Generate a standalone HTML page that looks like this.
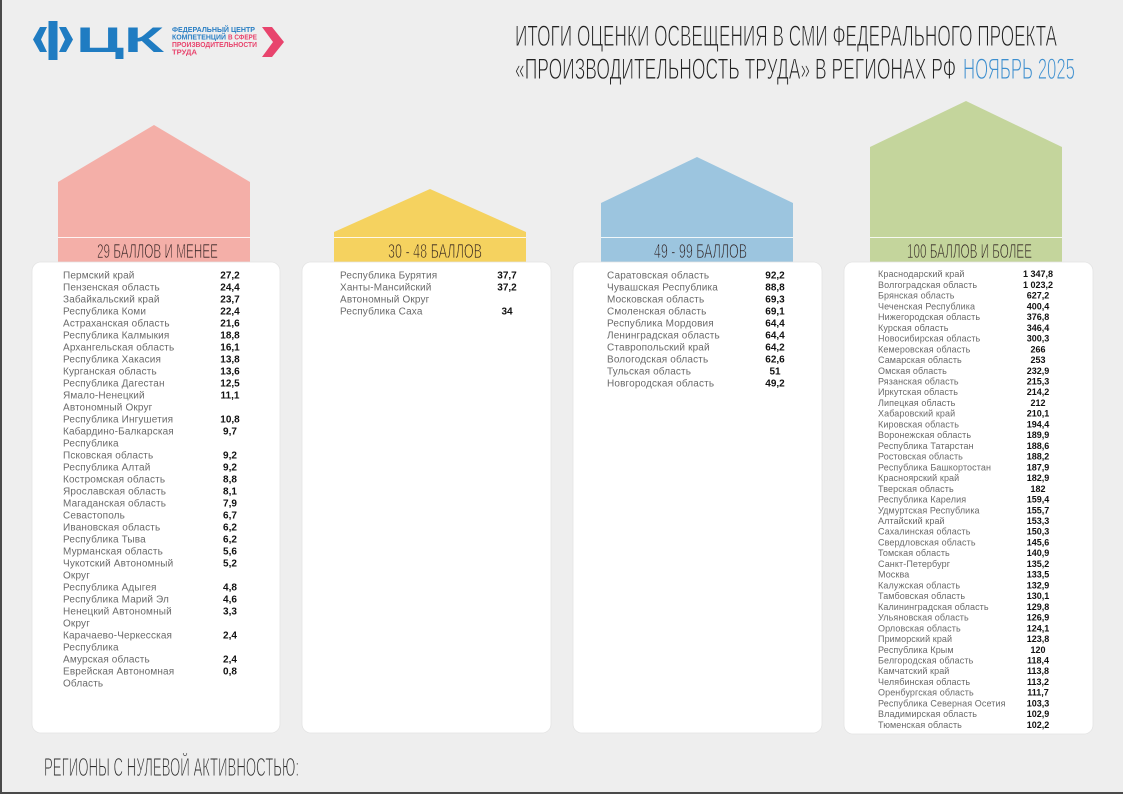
<!DOCTYPE html>
<html><head><meta charset="utf-8"><style>
html,body{margin:0;padding:0;background:#eeeeee;}
svg{display:block;}
text{font-family:"Liberation Sans","DejaVu Sans",sans-serif;}
.n{font-size:10px;fill:#6a6a6a;letter-spacing:0.15px;}
.v{font-size:10px;font-weight:bold;fill:#111;text-anchor:middle;}
.n4{font-size:9px;fill:#6a6a6a;letter-spacing:0.1px;}
.v4{font-size:9px;font-weight:bold;fill:#111;text-anchor:middle;}
.lab{font-size:20px;fill:#2a1c1c;stroke-width:0.7px;}
.ttl{stroke:#eeeeee;stroke-width:0.9px;}
</style></head><body>
<svg width="1123" height="794" viewBox="0 0 1123 794" xmlns="http://www.w3.org/2000/svg">
<rect x="0" y="0" width="1123" height="794" fill="#eeeeee"/>
<rect x="0" y="0" width="2" height="794" fill="#4a4a4a"/>
<rect x="0" y="792" width="1123" height="2" fill="#4a4a4a"/>

<!-- logo -->
<polygon points="47,27 40,27 33,39.5 40,52 47,52 41,39.5" fill="#1f7cc2"/>
<rect x="48.5" y="21" width="9" height="39" fill="#1f7cc2"/>
<polygon points="59,27 66,27 73,39.5 66,52 59,52 65,39.5" fill="#1f7cc2"/>
<text x="76" y="52" font-size="35" font-weight="bold" fill="#1f7cc2" textLength="88" lengthAdjust="spacingAndGlyphs">ЦК</text>
<text x="172" y="32" font-size="7" font-weight="bold" fill="#2a7fc4" textLength="83" lengthAdjust="spacingAndGlyphs">ФЕДЕРАЛЬНЫЙ ЦЕНТР</text>
<text x="172" y="39.5" font-size="7" font-weight="bold" fill="#2a7fc4" textLength="54" lengthAdjust="spacingAndGlyphs">КОМПЕТЕНЦИЙ</text>
<text x="228" y="39.5" font-size="7" font-weight="bold" fill="#e8446d" textLength="29" lengthAdjust="spacingAndGlyphs">В СФЕРЕ</text>
<text x="172" y="47" font-size="7" font-weight="bold" fill="#e8446d" textLength="85" lengthAdjust="spacingAndGlyphs">ПРОИЗВОДИТЕЛЬНОСТИ</text>
<text x="172" y="54.5" font-size="7" font-weight="bold" fill="#e8446d" textLength="25" lengthAdjust="spacingAndGlyphs">ТРУДА</text>
<polygon points="262,27 272,27 284,42 272,57 262,57 273,42" fill="#e8446d"/>

<!-- title -->
<text class="ttl" x="515" y="46" font-size="30" fill="#222" textLength="542" lengthAdjust="spacingAndGlyphs">ИТОГИ ОЦЕНКИ ОСВЕЩЕНИЯ В СМИ ФЕДЕРАЛЬНОГО ПРОЕКТА</text>
<text class="ttl" x="515" y="79" font-size="30" fill="#222" textLength="441" lengthAdjust="spacingAndGlyphs">«ПРОИЗВОДИТЕЛЬНОСТЬ ТРУДА» В РЕГИОНАХ РФ</text>
<text class="ttl" x="963" y="79" font-size="30" fill="#3d8fcf" textLength="112" lengthAdjust="spacingAndGlyphs">НОЯБРЬ 2025</text>

<!-- houses -->
<polygon points="58,182 154,125 250,182 250,266 58,266" fill="#f4afa8"/>
<polygon points="334,232 430,189 526,232 526,266 334,266" fill="#f5d25f"/>
<polygon points="601,203 697,157 793,203 793,266 601,266" fill="#9cc5df"/>
<polygon points="870,147 966,101 1062,147 1062,266 870,266" fill="#c4d59c"/>
<g stroke="#ffffff" stroke-opacity="0.85" stroke-width="1">
<line x1="58" y1="237.5" x2="250" y2="237.5"/>
<line x1="334" y1="237.5" x2="526" y2="237.5"/>
<line x1="601" y1="237.5" x2="793" y2="237.5"/>
<line x1="870" y1="237.5" x2="1062" y2="237.5"/>
</g>
<text class="lab" stroke="#f4afa8" x="97" y="258" textLength="121" lengthAdjust="spacingAndGlyphs">29 БАЛЛОВ И МЕНЕЕ</text>
<text class="lab" stroke="#f5d25f" x="388" y="258" textLength="94" lengthAdjust="spacingAndGlyphs">30 - 48 БАЛЛОВ</text>
<text class="lab" stroke="#9cc5df" x="654" y="258" textLength="93" lengthAdjust="spacingAndGlyphs">49 - 99 БАЛЛОВ</text>
<text class="lab" stroke="#c4d59c" x="907" y="258" textLength="125" lengthAdjust="spacingAndGlyphs">100 БАЛЛОВ И БОЛЕЕ</text>

<!-- cards -->
<g fill="#ffffff" stroke="#e4e4e4" stroke-width="0.8">
<rect x="32" y="262" width="248" height="471" rx="9"/>
<rect x="302" y="262" width="249" height="471" rx="9"/>
<rect x="573" y="262" width="249" height="471" rx="9"/>
<rect x="844" y="262" width="249" height="472" rx="9"/>
</g>

<!-- column 1 -->
<g>
<text class="n" x="63" y="278.5">Пермский край</text><text class="v" x="230" y="278.5">27,2</text>
<text class="n" x="63" y="290.5">Пензенская область</text><text class="v" x="230" y="290.5">24,4</text>
<text class="n" x="63" y="302.5">Забайкальский край</text><text class="v" x="230" y="302.5">23,7</text>
<text class="n" x="63" y="314.5">Республика Коми</text><text class="v" x="230" y="314.5">22,4</text>
<text class="n" x="63" y="326.5">Астраханская область</text><text class="v" x="230" y="326.5">21,6</text>
<text class="n" x="63" y="338.5">Республика Калмыкия</text><text class="v" x="230" y="338.5">18,8</text>
<text class="n" x="63" y="350.5">Архангельская область</text><text class="v" x="230" y="350.5">16,1</text>
<text class="n" x="63" y="362.5">Республика Хакасия</text><text class="v" x="230" y="362.5">13,8</text>
<text class="n" x="63" y="374.5">Курганская область</text><text class="v" x="230" y="374.5">13,6</text>
<text class="n" x="63" y="386.5">Республика Дагестан</text><text class="v" x="230" y="386.5">12,5</text>
<text class="n" x="63" y="398.5">Ямало-Ненецкий</text><text class="v" x="230" y="398.5">11,1</text>
<text class="n" x="63" y="410.5">Автономный Округ</text>
<text class="n" x="63" y="422.5">Республика Ингушетия</text><text class="v" x="230" y="422.5">10,8</text>
<text class="n" x="63" y="434.5">Кабардино-Балкарская</text><text class="v" x="230" y="434.5">9,7</text>
<text class="n" x="63" y="446.5">Республика</text>
<text class="n" x="63" y="458.5">Псковская область</text><text class="v" x="230" y="458.5">9,2</text>
<text class="n" x="63" y="470.5">Республика Алтай</text><text class="v" x="230" y="470.5">9,2</text>
<text class="n" x="63" y="482.5">Костромская область</text><text class="v" x="230" y="482.5">8,8</text>
<text class="n" x="63" y="494.5">Ярославская область</text><text class="v" x="230" y="494.5">8,1</text>
<text class="n" x="63" y="506.5">Магаданская область</text><text class="v" x="230" y="506.5">7,9</text>
<text class="n" x="63" y="518.5">Севастополь</text><text class="v" x="230" y="518.5">6,7</text>
<text class="n" x="63" y="530.5">Ивановская область</text><text class="v" x="230" y="530.5">6,2</text>
<text class="n" x="63" y="542.5">Республика Тыва</text><text class="v" x="230" y="542.5">6,2</text>
<text class="n" x="63" y="554.5">Мурманская область</text><text class="v" x="230" y="554.5">5,6</text>
<text class="n" x="63" y="566.5">Чукотский Автономный</text><text class="v" x="230" y="566.5">5,2</text>
<text class="n" x="63" y="578.5">Округ</text>
<text class="n" x="63" y="590.5">Республика Адыгея</text><text class="v" x="230" y="590.5">4,8</text>
<text class="n" x="63" y="602.5">Республика Марий Эл</text><text class="v" x="230" y="602.5">4,6</text>
<text class="n" x="63" y="614.5">Ненецкий Автономный</text><text class="v" x="230" y="614.5">3,3</text>
<text class="n" x="63" y="626.5">Округ</text>
<text class="n" x="63" y="638.5">Карачаево-Черкесская</text><text class="v" x="230" y="638.5">2,4</text>
<text class="n" x="63" y="650.5">Республика</text>
<text class="n" x="63" y="662.5">Амурская область</text><text class="v" x="230" y="662.5">2,4</text>
<text class="n" x="63" y="674.5">Еврейская Автономная</text><text class="v" x="230" y="674.5">0,8</text>
<text class="n" x="63" y="686.5">Область</text>
</g>

<!-- column 2 -->
<g>
<text class="n" x="340" y="278.5">Республика Бурятия</text><text class="v" x="507" y="278.5">37,7</text>
<text class="n" x="340" y="290.5">Ханты-Мансийский</text><text class="v" x="507" y="290.5">37,2</text>
<text class="n" x="340" y="302.5">Автономный Округ</text>
<text class="n" x="340" y="314.5">Республика Саха</text><text class="v" x="507" y="314.5">34</text>
</g>

<!-- column 3 -->
<g>
<text class="n" x="607" y="278.5">Саратовская область</text><text class="v" x="775" y="278.5">92,2</text>
<text class="n" x="607" y="290.5">Чувашская Республика</text><text class="v" x="775" y="290.5">88,8</text>
<text class="n" x="607" y="302.5">Московская область</text><text class="v" x="775" y="302.5">69,3</text>
<text class="n" x="607" y="314.5">Смоленская область</text><text class="v" x="775" y="314.5">69,1</text>
<text class="n" x="607" y="326.5">Республика Мордовия</text><text class="v" x="775" y="326.5">64,4</text>
<text class="n" x="607" y="338.5">Ленинградская область</text><text class="v" x="775" y="338.5">64,4</text>
<text class="n" x="607" y="350.5">Ставропольский край</text><text class="v" x="775" y="350.5">64,2</text>
<text class="n" x="607" y="362.5">Вологодская область</text><text class="v" x="775" y="362.5">62,6</text>
<text class="n" x="607" y="374.5">Тульская область</text><text class="v" x="775" y="374.5">51</text>
<text class="n" x="607" y="386.5">Новгородская область</text><text class="v" x="775" y="386.5">49,2</text>
</g>

<!-- column 4 -->
<g>
<text class="n4" x="878" y="277.2">Краснодарский край</text><text class="v4" x="1038" y="277.2">1 347,8</text>
<text class="n4" x="878" y="287.9">Волгоградская область</text><text class="v4" x="1038" y="287.9">1 023,2</text>
<text class="n4" x="878" y="298.7">Брянская область</text><text class="v4" x="1038" y="298.7">627,2</text>
<text class="n4" x="878" y="309.4">Чеченская Республика</text><text class="v4" x="1038" y="309.4">400,4</text>
<text class="n4" x="878" y="320.1">Нижегородская область</text><text class="v4" x="1038" y="320.1">376,8</text>
<text class="n4" x="878" y="330.9">Курская область</text><text class="v4" x="1038" y="330.9">346,4</text>
<text class="n4" x="878" y="341.6">Новосибирская область</text><text class="v4" x="1038" y="341.6">300,3</text>
<text class="n4" x="878" y="352.3">Кемеровская область</text><text class="v4" x="1038" y="352.3">266</text>
<text class="n4" x="878" y="363.0">Самарская область</text><text class="v4" x="1038" y="363.0">253</text>
<text class="n4" x="878" y="373.8">Омская область</text><text class="v4" x="1038" y="373.8">232,9</text>
<text class="n4" x="878" y="384.5">Рязанская область</text><text class="v4" x="1038" y="384.5">215,3</text>
<text class="n4" x="878" y="395.2">Иркутская область</text><text class="v4" x="1038" y="395.2">214,2</text>
<text class="n4" x="878" y="406.0">Липецкая область</text><text class="v4" x="1038" y="406.0">212</text>
<text class="n4" x="878" y="416.7">Хабаровский край</text><text class="v4" x="1038" y="416.7">210,1</text>
<text class="n4" x="878" y="427.4">Кировская область</text><text class="v4" x="1038" y="427.4">194,4</text>
<text class="n4" x="878" y="438.2">Воронежская область</text><text class="v4" x="1038" y="438.2">189,9</text>
<text class="n4" x="878" y="448.9">Республика Татарстан</text><text class="v4" x="1038" y="448.9">188,6</text>
<text class="n4" x="878" y="459.6">Ростовская область</text><text class="v4" x="1038" y="459.6">188,2</text>
<text class="n4" x="878" y="470.3">Республика Башкортостан</text><text class="v4" x="1038" y="470.3">187,9</text>
<text class="n4" x="878" y="481.1">Красноярский край</text><text class="v4" x="1038" y="481.1">182,9</text>
<text class="n4" x="878" y="491.8">Тверская область</text><text class="v4" x="1038" y="491.8">182</text>
<text class="n4" x="878" y="502.5">Республика Карелия</text><text class="v4" x="1038" y="502.5">159,4</text>
<text class="n4" x="878" y="513.3">Удмуртская Республика</text><text class="v4" x="1038" y="513.3">155,7</text>
<text class="n4" x="878" y="524.0">Алтайский край</text><text class="v4" x="1038" y="524.0">153,3</text>
<text class="n4" x="878" y="534.7">Сахалинская область</text><text class="v4" x="1038" y="534.7">150,3</text>
<text class="n4" x="878" y="545.5">Свердловская область</text><text class="v4" x="1038" y="545.5">145,6</text>
<text class="n4" x="878" y="556.2">Томская область</text><text class="v4" x="1038" y="556.2">140,9</text>
<text class="n4" x="878" y="566.9">Санкт-Петербург</text><text class="v4" x="1038" y="566.9">135,2</text>
<text class="n4" x="878" y="577.6">Москва</text><text class="v4" x="1038" y="577.6">133,5</text>
<text class="n4" x="878" y="588.4">Калужская область</text><text class="v4" x="1038" y="588.4">132,9</text>
<text class="n4" x="878" y="599.1">Тамбовская область</text><text class="v4" x="1038" y="599.1">130,1</text>
<text class="n4" x="878" y="609.8">Калининградская область</text><text class="v4" x="1038" y="609.8">129,8</text>
<text class="n4" x="878" y="620.6">Ульяновская область</text><text class="v4" x="1038" y="620.6">126,9</text>
<text class="n4" x="878" y="631.3">Орловская область</text><text class="v4" x="1038" y="631.3">124,1</text>
<text class="n4" x="878" y="642.0">Приморский край</text><text class="v4" x="1038" y="642.0">123,8</text>
<text class="n4" x="878" y="652.8">Республика Крым</text><text class="v4" x="1038" y="652.8">120</text>
<text class="n4" x="878" y="663.5">Белгородская область</text><text class="v4" x="1038" y="663.5">118,4</text>
<text class="n4" x="878" y="674.2">Камчатский край</text><text class="v4" x="1038" y="674.2">113,8</text>
<text class="n4" x="878" y="684.9">Челябинская область</text><text class="v4" x="1038" y="684.9">113,2</text>
<text class="n4" x="878" y="695.7">Оренбургская область</text><text class="v4" x="1038" y="695.7">111,7</text>
<text class="n4" x="878" y="706.4">Республика Северная Осетия</text><text class="v4" x="1038" y="706.4">103,3</text>
<text class="n4" x="878" y="717.1">Владимирская область</text><text class="v4" x="1038" y="717.1">102,9</text>
<text class="n4" x="878" y="727.9">Тюменская область</text><text class="v4" x="1038" y="727.9">102,2</text>
</g>

<!-- bottom -->
<text class="ttl" x="44" y="776" font-size="26" fill="#2b2b2b" textLength="255" lengthAdjust="spacingAndGlyphs">РЕГИОНЫ С НУЛЕВОЙ АКТИВНОСТЬЮ:</text>
</svg>
</body></html>
